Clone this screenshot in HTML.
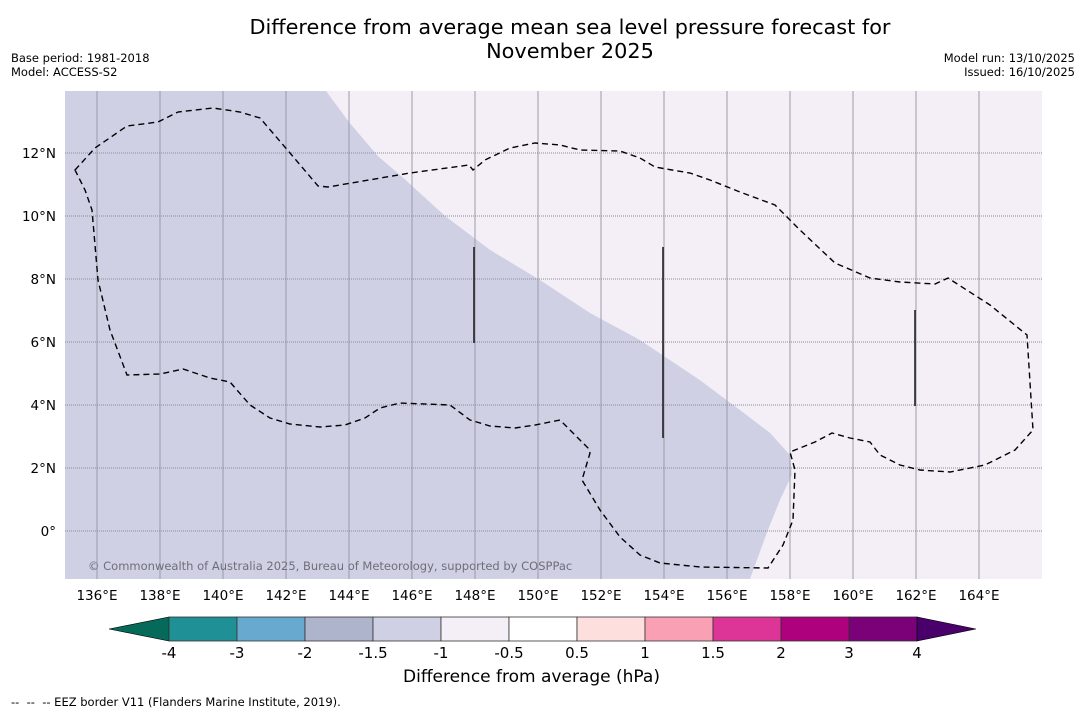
<!DOCTYPE html>
<html><head><meta charset="utf-8"><style>
body{margin:0;background:#fff;font-family:"DejaVu Sans","Liberation Sans",sans-serif;}
.t{position:absolute;color:#000;}
</style></head><body>
<div style="position:relative;width:1085px;height:713px;overflow:hidden">
<div class="t" style="left:0;width:1140px;top:15px;text-align:center;font-size:20.8px;line-height:24px">Difference from average mean sea level pressure forecast for<br>November 2025</div>
<div class="t" style="left:11px;top:51px;font-size:11.5px;line-height:14px">Base period: 1981-2018<br>Model: ACCESS-S2</div>
<div class="t" style="right:10px;top:51px;font-size:11.5px;line-height:14px;text-align:right">Model run: 13/10/2025<br>Issued: 16/10/2025</div>
<svg id="map" width="1085" height="713" style="position:absolute;left:0;top:0"></svg>
<div class="t" style="left:403px;top:667px;font-size:17px">Difference from average (hPa)</div>
<div class="t" style="left:11px;top:695px;font-size:11.5px">--&nbsp; --&nbsp; -- EEZ border V11 (Flanders Marine Institute, 2019).</div>
</div>
<script>
const lonTicks=[136,138,140,142,144,146,148,150,152,154,156,158,160,162,164];
const latTicks=[0,2,4,6,8,10,12];
const levels=["-4","-3","-2","-1.5","-1","-0.5","0.5","1","1.5","2","3","4"];
const binColors=["#1f9096","#67a9cf","#aeb4cc","#cfd0e4","#f4eef6","#ffffff","#fde0dd","#f9a0b5","#dd3497","#ae017e","#7a0177"];
const lowColor="#066a5a", highColor="#49006a";
const boundLon=[143.27,144.0,144.92,145.62,147.05,148.48,150.06,151.65,153.24,155.14,156.41,157.37,158.0,158.06,157.68,157.3,156.73];
const boundLat=[13.97,12.98,11.9,11.3,10.0,8.92,7.97,6.92,6.06,4.79,3.84,3.11,2.41,1.78,0.98,0.03,-1.52];
const ns="http://www.w3.org/2000/svg";
const svg=document.getElementById('map');
const X0=65,X1=1042,Y0=91,Y1=579;
const lx=l=>97+(l-136)*31.5, ly=l=>531-l*31.5;
function mk(t,a,p){const e=document.createElementNS(ns,t);for(const k in a)e.setAttribute(k,a[k]);(p||svg).appendChild(e);return e;}
const bg=mk('rect',{x:X0,y:Y0,width:X1-X0,height:Y1-Y0,fill:'#f4eef6'});


let d=`M${X0},${Y0}`;
boundLon.forEach((l,i)=>{d+=` L${lx(l)},${Math.max(Y0,Math.min(Y1,ly(boundLat[i])))}`;});
d+=` L${X0},${Y1} Z`;
const sh=mk('path',{d:d,fill:'#cfd0e4'});


lonTicks.forEach(l=>{
  const g=mk('line',{x1:lx(l),x2:lx(l),y1:Y0,y2:Y1,stroke:'#9b9aab','stroke-width':1});
  
  
  const t=mk('text',{x:lx(l),y:600,'text-anchor':'middle','font-size':13.5,'font-family':'DejaVu Sans, sans-serif'});
  t.textContent=l+'°E';
  
  
});
latTicks.forEach(l=>{
  const g=mk('line',{x1:X0,x2:X1,y1:ly(l),y2:ly(l),stroke:'#8a8a96','stroke-width':1,'stroke-dasharray':'1,1'});
  
  
  const t=mk('text',{x:56,y:ly(l)+5,'text-anchor':'end','font-size':13.5,'font-family':'DejaVu Sans, sans-serif'});
  t.textContent=l===0?'0°':l+'°N';
  
  
});
const eez=mk('path',{d:"M75,170 L95,148 L127,126 L158,122 L178,112 L213,108 L240,112 L260,118 L290,153 L318,186 L328,187 L410,173 L469,165 L473,170 L485,160 L510,148 L535,143 L560,145 L580,150 L620,151 L640,158 L655,167 L672,170 L690,173 L710,180 L740,192 L775,205 L800,230 L835,263 L870,278 L900,282 L935,284 L948,278 L990,305 L1027,335 L1033,430 L1015,450 L985,465 L950,472 L920,470 L900,465 L880,455 L870,442 L850,438 L832,433 L815,442 L790,452 L795,470 L793,520 L783,545 L768,568 L700,567 L660,563 L640,555 L620,537 L600,510 L582,480 L590,453 L588,448 L560,420 L535,425 L515,428 L490,426 L470,420 L450,405 L400,403 L380,408 L365,418 L345,425 L320,427 L290,424 L270,418 L250,405 L230,382 L210,378 L183,369 L160,374 L127,375 L110,330 L98,280 L92,210 L85,190 Z",fill:'none',stroke:'#000','stroke-width':1.4,'stroke-dasharray':'6,4'});


[[474,247,343],[663,247,438],[915,310,406]].forEach(v=>{
  const l=mk('line',{x1:v[0],x2:v[0],y1:v[1],y2:v[2],stroke:'#222','stroke-width':1.6});
  
  
});
const cr=mk('text',{x:88,y:570,'font-size':11.5,fill:'#6e6e78','font-family':'DejaVu Sans, sans-serif'});
cr.textContent='© Commonwealth of Australia 2025, Bureau of Meteorology, supported by COSPPac';


const CB0=169,CBW=68,CY=617,CH=24;
const lt=mk('polygon',{points:`${CB0},${CY} ${CB0},${CY+CH} 109,${CY+CH/2}`,fill:lowColor,stroke:'#000','stroke-width':0.6});


binColors.forEach((c,i)=>{
  const r=mk('rect',{x:CB0+i*CBW,y:CY,width:CBW,height:CH,fill:c,stroke:'#333','stroke-width':0.8});
  
  
});
const hx=CB0+binColors.length*CBW;
const ht=mk('polygon',{points:`${hx},${CY} ${hx},${CY+CH} 976,${CY+CH/2}`,fill:highColor,stroke:'#000','stroke-width':0.6});


levels.forEach((v,i)=>{
  const t=mk('text',{x:CB0+i*CBW,y:658,'text-anchor':'middle','font-size':15,'font-family':'DejaVu Sans, sans-serif'});
  t.textContent=v;
  
  
});
</script>
</body></html>
